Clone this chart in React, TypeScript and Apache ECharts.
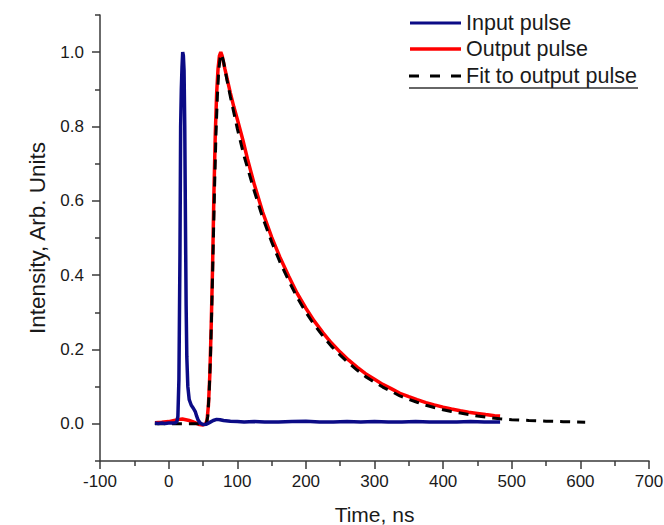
import React, { useEffect, useRef } from "react";
import * as echarts from "echarts";

// ---- Data (time in ns, intensity in arb. units) ----
const inputPulse: [number, number][] = [
  [-20, 0.002], [-15, 0.001], [-10, 0.002], [-5, 0.001], [0, 0.002], [5, 0.002], [10, 0.003],
  [12, 0.006], [13.5, 0.02], [15, 0.12], [16.5, 0.45], [17.5, 0.8], [18.5, 0.9], [19.5, 0.96],
  [20.5, 1.0], [21.5, 0.99], [22.5, 0.95], [23.5, 0.8], [24.5, 0.55], [25.5, 0.32], [26.5, 0.18],
  [28, 0.1], [30, 0.065], [33, 0.05], [36, 0.042], [39, 0.032], [41, 0.02], [43, 0.01], [46, 0.002],
  [50, -0.002], [55, -0.001], [60, 0.004], [65, 0.009], [70, 0.012], [75, 0.011], [80, 0.009],
  [90, 0.007], [100, 0.006], [110, 0.005], [125, 0.006], [140, 0.005], [160, 0.005], [180, 0.006],
  [200, 0.007], [220, 0.005], [240, 0.005], [260, 0.006], [280, 0.005], [300, 0.006], [320, 0.005],
  [340, 0.005], [360, 0.006], [380, 0.005], [400, 0.005], [420, 0.005], [440, 0.006], [460, 0.005],
  [483, 0.005],
];

const outputPulse: [number, number][] = [
  [-20, 0.003], [-10, 0.004], [0, 0.006], [5, 0.008], [10, 0.01], [15, 0.012], [20, 0.013],
  [25, 0.011], [30, 0.009], [35, 0.006], [40, 0.002], [45, -0.002], [50, -0.003], [54, 0.0],
  [56, 0.01], [58, 0.05], [60, 0.13], [62, 0.26], [64, 0.42], [66, 0.62], [68, 0.78], [70, 0.89],
  [72, 0.955], [74, 0.99], [76, 1.0], [78, 0.99], [82, 0.955], [86, 0.922], [90, 0.89], [95, 0.853],
  [100, 0.82], [108, 0.765], [115, 0.712], [125, 0.643], [137, 0.57], [150, 0.503], [162, 0.449],
  [175, 0.397], [187, 0.352], [200, 0.311], [212, 0.277], [225, 0.245], [237, 0.218], [250, 0.193],
  [262, 0.172], [275, 0.152], [287, 0.135], [300, 0.12], [312, 0.106], [325, 0.094], [337, 0.082],
  [350, 0.073], [362, 0.065], [375, 0.057], [387, 0.051], [400, 0.045], [412, 0.04], [425, 0.035],
  [437, 0.031], [450, 0.028], [462, 0.025], [475, 0.022], [483, 0.021],
];

const fitPulse: [number, number][] = [
  [-20, 0], [0, 0], [20, 0], [40, 0], [55, 0], [57, 0.02], [59, 0.08], [61, 0.18], [63, 0.32],
  [65, 0.48], [67, 0.64], [69, 0.78], [71, 0.88], [73, 0.95], [75, 0.985], [77, 0.995], [80, 0.975],
  [85, 0.925], [90, 0.88], [100, 0.795], [110, 0.72], [125, 0.625], [137, 0.555], [150, 0.49],
  [162, 0.436], [175, 0.385], [187, 0.341], [200, 0.3], [212, 0.267], [225, 0.236], [237, 0.209],
  [250, 0.185], [262, 0.164], [275, 0.144], [287, 0.127], [300, 0.112], [312, 0.099], [325, 0.087],
  [337, 0.075], [350, 0.066], [362, 0.058], [375, 0.05], [387, 0.044], [400, 0.038], [412, 0.033],
  [425, 0.029], [437, 0.025], [450, 0.021], [466, 0.017], [483, 0.0135], [500, 0.011], [525, 0.009],
  [550, 0.0072], [575, 0.0058], [607, 0.0045],
];

const yMajorTicks = [0, 0.2, 0.4, 0.6, 0.8, 1.0];
const yMinorTicks = [-0.1, 0.1, 0.3, 0.5, 0.7, 0.9, 1.1];
const xMinorTicks = [-50, 50, 150, 250, 350, 450, 550, 650];
const legendNames = ["Input pulse", "Output pulse", "Fit to output pulse"];

const FONT = "'Liberation Sans', Arial, Helvetica, sans-serif";
const AXIS_COLOR = "#3a3a3a";
const TEXT_COLOR = "#1a1a1a";

export default function App() {
  const ref = useRef<HTMLDivElement>(null);

  useEffect(() => {
    if (!ref.current) return;
    const chart = echarts.init(ref.current, undefined, { renderer: "svg" });

    const tickLine = { color: AXIS_COLOR, width: 1.5 };

    const option: any = {
      animation: false,
      backgroundColor: "#ffffff",
      textStyle: { fontFamily: FONT },
      grid: {
        left: 100,
        right: 15,
        top: 15,
        bottom: 64,
        containLabel: false,
        outerBoundsMode: "none",
      },
      xAxis: [
        {
          type: "value",
          min: -100,
          max: 700,
          interval: 100,
          position: "bottom",
          name: "Time, ns",
          nameLocation: "middle",
          nameGap: 43,
          nameTextStyle: { fontSize: 21, color: TEXT_COLOR, fontFamily: FONT },
          axisLine: { show: true, onZero: false, lineStyle: tickLine },
          axisTick: { show: true, length: 8, lineStyle: tickLine },
          axisLabel: { fontSize: 17, color: TEXT_COLOR, margin: 12, fontFamily: FONT, showMinLabel: true, showMaxLabel: true, hideOverlap: false },
          splitLine: { show: false },
        },
        {
          type: "value",
          min: -100,
          max: 700,
          position: "bottom",
          axisLine: { show: false, onZero: false },
          axisTick: { show: true, length: 5, customValues: xMinorTicks, lineStyle: tickLine },
          axisLabel: { show: false },
          splitLine: { show: false },
        },
      ],
      yAxis: [
        {
          type: "value",
          min: -0.1,
          max: 1.1,
          position: "left",
          name: "Intensity, Arb. Units",
          nameLocation: "middle",
          nameGap: 49,
          nameTextStyle: { fontSize: 22.5, color: TEXT_COLOR, fontFamily: FONT },
          axisLine: { show: true, onZero: false, lineStyle: tickLine },
          axisTick: { show: false },
          axisLabel: {
            fontSize: 17,
            color: TEXT_COLOR,
            margin: 16,
            fontFamily: FONT,
            customValues: yMajorTicks,
            formatter: (v: number) => v.toFixed(1),
          },
          splitLine: { show: false },
        },
        {
          type: "value",
          min: -0.1,
          max: 1.1,
          position: "left",
          axisLine: { show: false, onZero: false },
          axisTick: { show: true, length: 8, customValues: yMajorTicks, lineStyle: tickLine },
          axisLabel: { show: false },
          splitLine: { show: false },
        },
        {
          type: "value",
          min: -0.1,
          max: 1.1,
          position: "left",
          axisLine: { show: false, onZero: false },
          axisTick: { show: true, length: 5, customValues: yMinorTicks, lineStyle: tickLine },
          axisLabel: { show: false },
          splitLine: { show: false },
        },
      ],
      graphic: [
        { type: "line", shape: { x1: 410, y1: 23, x2: 461, y2: 23 }, style: { stroke: "#0b0b86", lineWidth: 3 } },
        { type: "line", shape: { x1: 410, y1: 49, x2: 461, y2: 49 }, style: { stroke: "#ff0000", lineWidth: 3.5 } },
        { type: "line", shape: { x1: 409, y1: 76, x2: 461, y2: 76 }, style: { stroke: "#000000", lineWidth: 3, lineDash: [10, 11] } },
        { type: "line", shape: { x1: 409, y1: 88, x2: 638, y2: 88 }, style: { stroke: "#333333", lineWidth: 1.5 } },
        { type: "text", x: 466, y: 23, style: { text: legendNames[0], fontSize: 21.5, fill: TEXT_COLOR, fontFamily: FONT, verticalAlign: "middle" } },
        { type: "text", x: 466, y: 49, style: { text: legendNames[1], fontSize: 21.5, fill: TEXT_COLOR, fontFamily: FONT, verticalAlign: "middle" } },
        { type: "text", x: 466, y: 76, style: { text: legendNames[2], fontSize: 21.5, fill: TEXT_COLOR, fontFamily: FONT, verticalAlign: "middle" } },
      ],
      series: [
        {
          name: legendNames[1],
          type: "line",
          data: outputPulse,
          showSymbol: false,
          lineStyle: { color: "#ff0000", width: 3.5 },
          z: 2,
        },
        {
          name: legendNames[2],
          type: "line",
          data: fitPulse,
          showSymbol: false,
          lineStyle: { color: "#000000", width: 3, type: [10, 7] },
          z: 3,
        },
        {
          name: legendNames[0],
          type: "line",
          data: inputPulse,
          showSymbol: false,
          lineStyle: { color: "#0b0b86", width: 3.5 },
          z: 4,
        },
      ],
    };

    chart.setOption(option);
    return () => chart.dispose();
  }, []);

  return (
    <div
      ref={ref}
      style={{ position: "fixed", left: 0, top: 0, width: 664, height: 525, background: "#fff" }}
    />
  );
}
